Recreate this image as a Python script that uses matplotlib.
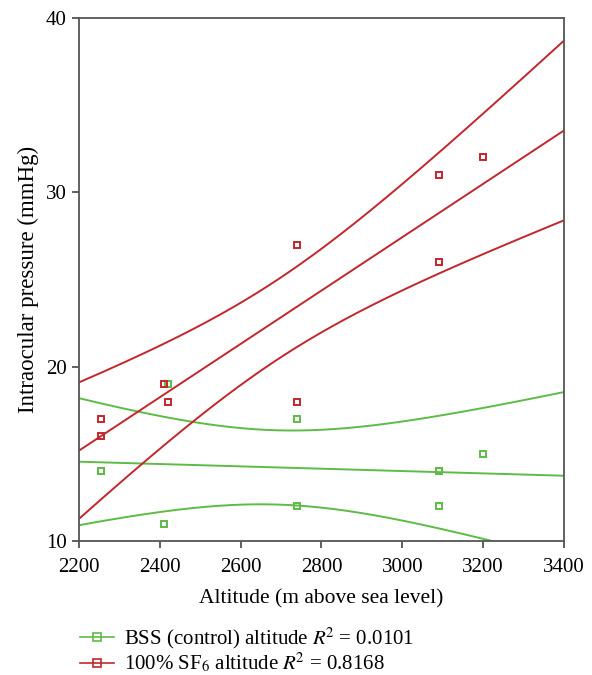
import numpy as np
import matplotlib
matplotlib.use("Agg")
import matplotlib.pyplot as plt
from matplotlib.lines import Line2D

plt.rcParams["font.family"] = ["Liberation Serif", "DejaVu Serif"]
plt.rcParams["mathtext.fontset"] = "stix"

# Intraocular pressure readings per altitude (m above sea level)
bss_altitude = [2255, 2255, 2420, 2410, 2740, 2740, 3090, 3090, 3200]
bss_iop = [14, 14, 19, 11, 17, 12, 14, 12, 15]

sf6_altitude = [2255, 2255, 2410, 2420, 2740, 2740, 3090, 3090, 3200]
sf6_iop = [17, 16, 19, 18, 27, 18, 31, 26, 32]

# two-sided 95% t critical values for n-2 degrees of freedom
t_crit = {6: 2.447, 7: 2.365}

GREEN = "#5dbb46"
RED = "#c1272d"


def fit_with_band(x, y, xs):
    """Least-squares line and 95% confidence band of the mean."""
    x = np.asarray(x, float)
    y = np.asarray(y, float)
    n = len(x)
    slope, intercept = np.polyfit(x, y, 1)
    resid = y - (slope * x + intercept)
    s = np.sqrt(np.sum(resid ** 2) / (n - 2))
    sxx = np.sum((x - x.mean()) ** 2)
    fit = slope * xs + intercept
    half = t_crit[n - 2] * s * np.sqrt(1.0 / n + (xs - x.mean()) ** 2 / sxx)
    return fit, fit - half, fit + half


fig = plt.figure(figsize=(5.92, 6.75), dpi=100)
ax = fig.add_axes([0.1334, 0.1985, 0.8193, 0.7748])

xs = np.linspace(2200, 3400, 300)

for x, y, color in [(bss_altitude, bss_iop, GREEN), (sf6_altitude, sf6_iop, RED)]:
    fit, lo, hi = fit_with_band(x, y, xs)
    for curve in (fit, lo, hi):
        ax.plot(xs, curve, color=color, lw=1.4, zorder=2)
    ax.plot(x, y, ls="none", marker="s", ms=5, mfc="none", mec=color,
            mew=1.4, zorder=3)

ax.set_xlim(2200, 3400)
ax.set_ylim(10, 40)
ax.set_xticks(range(2200, 3401, 200))
ax.set_yticks([10, 20, 30, 40])
ax.tick_params(direction="out", length=5, width=1.2, color="#444444",
               labelsize=15, pad=4)
ax.tick_params(axis="x", pad=7)
for spine in ax.spines.values():
    spine.set_color("#555555")
    spine.set_linewidth(1.3)

ax.set_xlabel("Altitude (m above sea level)", fontsize=15.5, labelpad=9)
ax.set_ylabel("Intraocular pressure (mmHg)", fontsize=16.5, labelpad=5)

handles = [
    Line2D([], [], color=GREEN, lw=1.2, marker="s", ms=6, mfc="none", mew=1.2),
    Line2D([], [], color=RED, lw=1.2, marker="s", ms=6, mfc="none", mew=1.2),
]
labels = [
    r"BSS (control) altitude $R^{\!2}$ = 0.0101",
    r"100% SF$_6$ altitude $R^{\!2}$ = 0.8168",
]
fig.legend(handles, labels, loc="upper left", bbox_to_anchor=(0.135, 0.073),
           frameon=False, fontsize=15, handlelength=1.65, handletextpad=0.45,
           borderpad=0, borderaxespad=0, labelspacing=0.0)

fig.savefig("out.png", dpi=100)
